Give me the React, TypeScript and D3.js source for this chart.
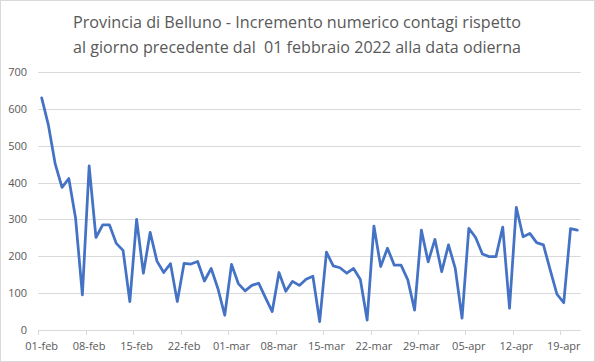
import React, { useEffect, useRef } from 'react';
import * as d3 from 'd3';

// daily increments, 01-feb-2022 .. 21-apr-2022
const startDate = new Date(2022, 1, 1);
const contagi = [
  630, 555, 450, 387, 411, 303, 95, 445, 251, 285,
  285, 235, 216, 77, 300, 154, 265, 187, 156, 180,
  77, 181, 179, 186, 133, 167, 112, 40, 178, 126,
  106, 121, 127, 88, 50, 156, 105, 132, 121, 138,
  146, 23, 211, 174, 169, 154, 167, 137, 27, 282,
  172, 222, 176, 176, 136, 54, 271, 185, 246, 158,
  231, 167, 32, 276, 251, 206, 199, 199, 279, 59,
  333, 253, 262, 237, 231, 163, 97, 74, 275, 271,
];
const tickLabels = [
  '01-feb', '08-feb', '15-feb', '22-feb', '01-mar', '08-mar',
  '15-mar', '22-mar', '29-mar', '05-apr', '12-apr', '19-apr',
];
const yTicks = [0, 100, 200, 300, 400, 500, 600, 700];
const titleLines = [
  'Provincia di Belluno - Incremento numerico contagi rispetto',
  'al giorno precedente dal  01 febbraio 2022 alla data odierna',
];

function App() {
  const svgRef = useRef(null);

  useEffect(() => {
    const svg = d3.select(svgRef.current);
    svg.selectAll('*').remove();
    const width = 595;
    const height = 362;
    const font = '"Open Sans", "Noto Sans", sans-serif';

    const days = d3.timeDay.range(startDate, d3.timeDay.offset(startDate, contagi.length));

    var x = d3
      .scaleBand()
      .domain(days.map((d, i) => i))
      .range([38.3, 580.7]);
    var y = d3.scaleLinear().domain([0, 700]).range([330, 72]);

    // chart frame
    svg
      .append('rect')
      .attr('x', 0.5)
      .attr('y', 0.5)
      .attr('width', width - 1)
      .attr('height', height - 1)
      .attr('fill', '#fff')
      .attr('stroke', '#d9d9d9');

    // title
    svg
      .append('g')
      .selectAll('text')
      .data(titleLines)
      .enter()
      .append('text')
      .attr('x', 297)
      .attr('y', (d, i) => 28 + i * 25)
      .attr('text-anchor', 'middle')
      .attr('textLength', 448)
      .attr('lengthAdjust', 'spacingAndGlyphs')
      .style('white-space', 'pre')
      .style('font-family', font)
      .style('font-size', '16.5px')
      .style('fill', '#595959')
      .text((d) => d);

    // gridlines
    svg
      .append('g')
      .selectAll('line')
      .data(yTicks)
      .enter()
      .append('line')
      .attr('x1', x.range()[0])
      .attr('x2', x.range()[1])
      .attr('y1', (d) => Math.round(y(d)) + 0.5)
      .attr('y2', (d) => Math.round(y(d)) + 0.5)
      .attr('stroke', '#d9d9d9')
      .attr('stroke-width', 1);

    // y labels
    svg
      .append('g')
      .selectAll('text')
      .data(yTicks)
      .enter()
      .append('text')
      .attr('x', 27)
      .attr('y', (d) => y(d) + 4)
      .attr('text-anchor', 'end')
      .style('font-family', font)
      .style('font-size', '11px')
      .style('fill', '#595959')
      .text((d) => d);

    // x ticks every week
    var weekIdx = days.map((d, i) => i).filter((i) => i % 7 === 0);
    svg
      .append('g')
      .selectAll('line')
      .data(weekIdx)
      .enter()
      .append('line')
      .attr('x1', (i) => Math.round(x(i)) + 0.5)
      .attr('x2', (i) => Math.round(x(i)) + 0.5)
      .attr('y1', 330)
      .attr('y2', 335)
      .attr('stroke', '#d9d9d9');

    svg
      .append('g')
      .selectAll('text')
      .data(weekIdx)
      .enter()
      .append('text')
      .attr('x', (i) => x(i) + x.bandwidth() / 2)
      .attr('y', 350)
      .attr('text-anchor', 'middle')
      .style('font-family', font)
      .style('font-size', '11px')
      .style('fill', '#595959')
      .text((i, k) => tickLabels[k]);

    // series line
    var line = d3
      .line()
      .x((d, i) => x(i) + x.bandwidth() / 2)
      .y((d) => y(d));
    svg
      .append('path')
      .datum(contagi)
      .attr('d', line)
      .attr('fill', 'none')
      .attr('stroke', '#4472C4')
      .attr('stroke-width', 2.75)
      .attr('stroke-linejoin', 'round')
      .attr('stroke-linecap', 'round');
  }, []);

  return (
    <svg
      ref={svgRef}
      width={595}
      height={362}
      style={{ position: 'absolute', left: 0, top: 0, display: 'block' }}
    ></svg>
  );
}

export default App;
